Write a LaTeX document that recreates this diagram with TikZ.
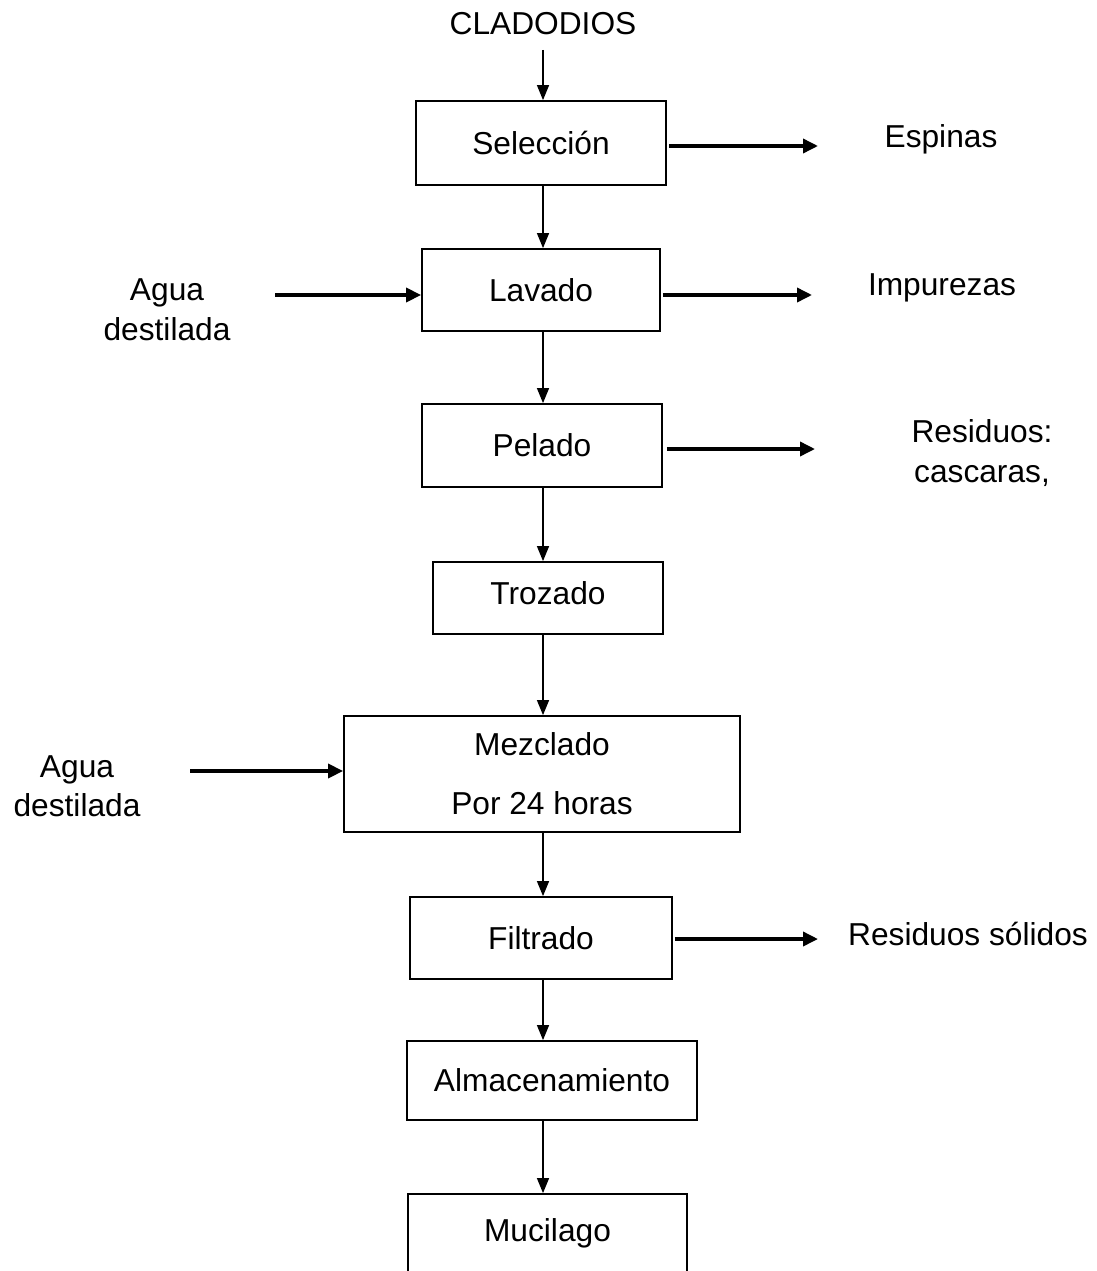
\documentclass[tikz,border=0pt]{standalone}
\usepackage{fontspec}
\setmainfont{Liberation Sans}
\usetikzlibrary{arrows.meta}
\begin{document}
\begin{tikzpicture}[x=1pt,y=-1pt,
  every node/.style={font=\fontsize{31.7}{40}\selectfont, inner sep=0pt},
  pbox/.style={draw, line width=1.8pt},
  vline/.style={line width=1.3pt, -{Triangle[length=15pt,width=12pt]}},
  hline/.style={line width=3.5pt, -{Triangle[length=15pt,width=14pt]}}]
\useasboundingbox (0,0) rectangle (1097,1271);
\clip (0,0) rectangle (1097,1271);
\coordinate (ax) at (543,0);
% title
\node (clad) at (543,24) {CLADODIOS};
\coordinate (c0) at (543,50);
% boxes
\node[pbox, minimum width=250pt, minimum height=84pt] (sel) at (541,143) {Selección};
\node[pbox, minimum width=238pt, minimum height=82pt] (lav) at (541,290) {Lavado};
\node[pbox, minimum width=240pt, minimum height=83pt] (pel) at (542,445.5) {Pelado};
\node[pbox, minimum width=230pt, minimum height=72pt] (tro) at (548,598) {\raisebox{10pt}{Trozado}};
\node[pbox, minimum width=396pt, minimum height=116pt, align=center,
      font=\fontsize{31.7}{59}\selectfont] (mez) at (542,774) {Mezclado\\Por 24 horas};
\node[pbox, minimum width=262pt, minimum height=82pt] (fil) at (541,938) {Filtrado};
\node[pbox, minimum width=290pt, minimum height=79pt] (alm) at (552,1080.5) {Almacenamiento};
\node[pbox, minimum width=279pt, minimum height=100pt] (muc) at (547.5,1244) {\raisebox{28pt}{Mucilago}};
% vertical flow
\draw[vline] (c0) -- (sel.north -| ax);
\draw[vline] (sel.south -| ax) -- (lav.north -| ax);
\draw[vline] (lav.south -| ax) -- (pel.north -| ax);
\draw[vline] (pel.south -| ax) -- (tro.north -| ax);
\draw[vline] (tro.south -| ax) -- (mez.north -| ax);
\draw[vline] (mez.south -| ax) -- (fil.north -| ax);
\draw[vline] (fil.south -| ax) -- (alm.north -| ax);
\draw[vline] (alm.south -| ax) -- (muc.north -| ax);
% side labels
\node (esp) at (941,139) {Espinas};
\node (imp) at (942,288) {Impurezas};
\node[align=center] (res) at (982,453) {Residuos:\\cascaras,};
\node (rsol) at (968,934) {Residuos sólidos};
\node[align=center] (ag1) at (167,310) {Agua\\destilada};
\node[align=center] (ag2) at (77,786.5) {Agua\\[-1pt]destilada};
% free ends
\coordinate (o1) at (818,146);
\coordinate (o2) at (812,295);
\coordinate (o3) at (815,449);
\coordinate (o4) at (818,939);
\coordinate (i1) at (275,295);
\coordinate (i2) at (190,771);
% horizontal arrows
\draw[hline] (sel.east |- o1) ++(2,0) -- (o1);
\draw[hline] (lav.east |- o2) ++(2,0) -- (o2);
\draw[hline] (pel.east |- o3) ++(4,0) -- (o3);
\draw[hline] (fil.east |- o4) ++(2,0) -- (o4);
\draw[hline] (i1) -- (lav.west |- i1);
\draw[hline] (i2) -- (mez.west |- i2);
\end{tikzpicture}
\end{document}
